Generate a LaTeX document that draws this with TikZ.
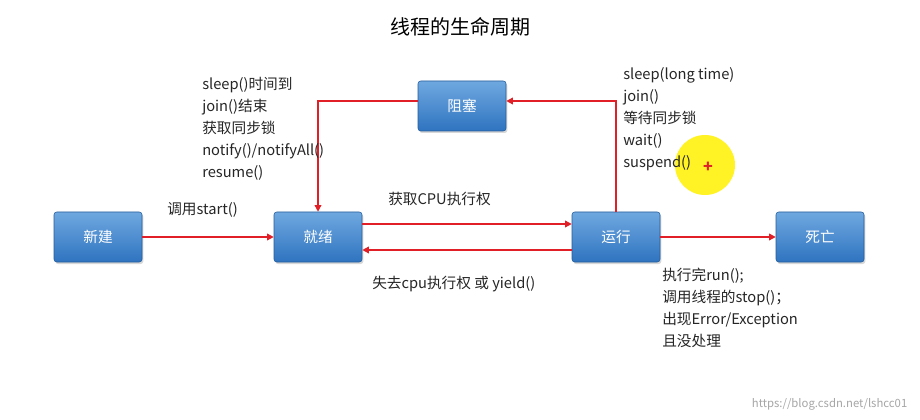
\documentclass[tikz,border=0pt]{standalone}
\usepackage{fontspec}
\setmainfont{Noto Sans CJK SC}
\usetikzlibrary{arrows.meta,shadows}
\definecolor{boxtop}{HTML}{6FA8E0}
\definecolor{boxbot}{HTML}{2F74C0}
\definecolor{arr}{HTML}{E01F26}
\begin{document}
\begin{tikzpicture}[x=0.75pt,y=-0.75pt,
  box/.style={draw=boxbot!80!black,line width=0.4pt,rounded corners=2pt,top color=boxtop,bottom color=boxbot,
    minimum width=66pt,minimum height=37.5pt,text=white,font=\fontsize{11}{13}\selectfont,drop shadow={shadow xshift=1pt,shadow yshift=-1.5pt,opacity=0.3}},
  ar/.style={draw=arr,line width=1pt,-{Triangle[length=5pt,width=5pt]}},
  lab/.style={font=\fontsize{11}{16.5}\selectfont,text=black!85,inner sep=0pt}]
\useasboundingbox (0,0) rectangle (920,420);
\fill[white] (0,0) rectangle (920,420);
\fill[yellow,opacity=0.85] (705,165) circle (30);
\node[font=\fontsize{15}{18}\selectfont] (title) at (460,27) {线程的生命周期};
\node[box] (new) at (98,237) {新建};
\node[box] (ready) at (318,237) {就绪};
\node[box] (run) at (616,237) {运行};
\node[box] (dead) at (820,237) {死亡};
\node[box] (block) at (462,106) {阻塞};
\coordinate (c1) at (616,101);
\coordinate (c2) at (318,101);
\draw[ar] (new) -- (ready);
\draw[ar] (ready.east|-0,224) -- (run.west|-0,224);
\draw[ar] (run.west|-0,250) -- (ready.east|-0,250);
\draw[ar] (run) -- (dead);
\draw[ar] (run.north) -- (c1) -- (block.east|-c1);
\draw[ar] (block.west|-c2) -- (c2) -- (ready.north);
\node[lab,anchor=north west,align=left] (l1) at (202,77) {sleep()时间到\\join()结束\\获取同步锁\\notify()/notifyAll()\\resume()};
\node[lab,anchor=north west,align=left] (l2) at (623,67) {sleep(long time)\\join()\\等待同步锁\\wait()\\suspend()};
\node[lab,anchor=west] (l3) at (167,210) {调用start()};
\node[lab,anchor=west] (l4) at (388,199) {获取CPU执行权};
\node[lab,anchor=west] (l5) at (372,284) {失去cpu执行权 或 yield()};
\node[lab,anchor=north west,align=left] (l6) at (662,268) {执行完run();\\调用线程的stop()；\\出现Error/Exception\\且没处理};
\node[text=arr,font=\fontsize{12}{12}\selectfont\bfseries] (plus) at (708,167) {+};
\node[text=black!35,font=\fontsize{8.5}{10}\selectfont,anchor=east] (wm) at (912,404) {https://blog.csdn.net/lshcc01};
\end{tikzpicture}
\end{document}
